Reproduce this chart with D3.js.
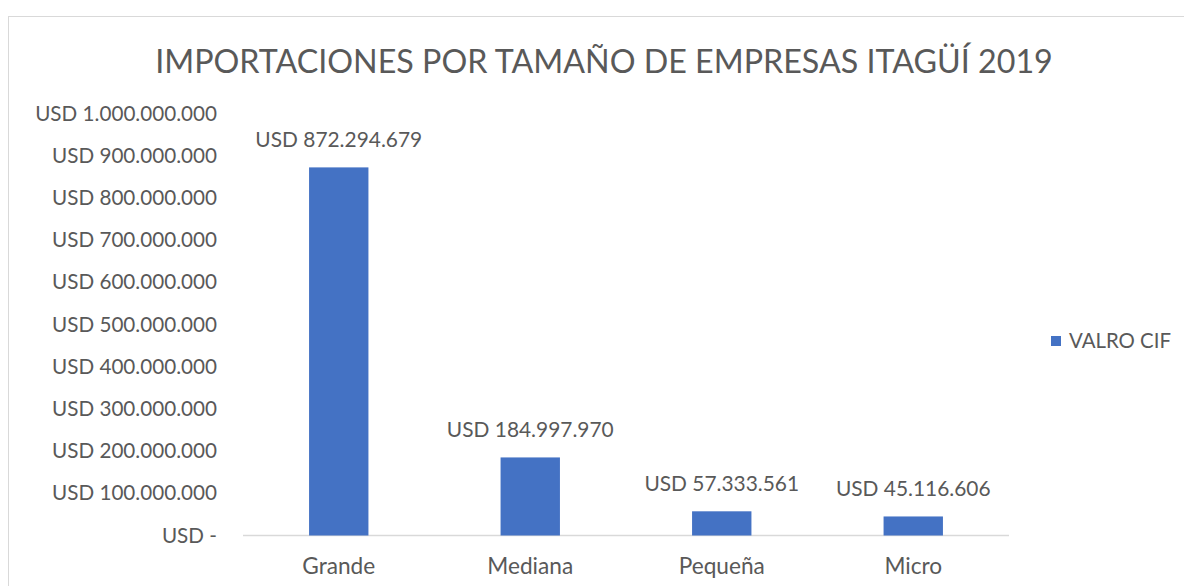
<!DOCTYPE html>
<html>
<head>
<meta charset="utf-8">
<script src="https://cdn.jsdelivr.net/npm/d3@7"></script>
<style>
  html, body { margin: 0; padding: 0; background: #fff; }
  svg text { font-family: "Lato", "Open Sans", sans-serif; fill: #595959; }
</style>
</head>
<body>
<svg id="chart" width="1184" height="586"></svg>
<script>
var categories = ["Grande", "Mediana", "Pequeña", "Micro"];
var valores = [872294679, 184997970, 57333561, 45116606];
var tickValues = [0, 100000000, 200000000, 300000000, 400000000, 500000000,
                  600000000, 700000000, 800000000, 900000000, 1000000000];
var seriesName = "VALRO CIF";
var title = "IMPORTACIONES POR TAMAÑO DE EMPRESAS ITAGÜÍ 2019";

var svg = d3.select("#chart");
var width = +svg.attr("width"), height = +svg.attr("height");

// outer chart border (runs off the picture on the right and bottom)
svg.append("rect")
    .attr("x", 8.5).attr("y", 16.5)
    .attr("width", 1300).attr("height", 700)
    .attr("fill", "none").attr("stroke", "#d9d9d9");

var margin = {left: 243, right: 1009, top: 113.5, bottom: 535.5};

var x = d3.scaleBand().domain(categories)
    .range([margin.left, margin.right]).paddingInner(0.69).paddingOuter(0.345);
var y = d3.scaleLinear().domain([0, 1000000000]).range([margin.bottom, margin.top]);

function fmt(v) {
    if (v === 0) return "USD -";
    return "USD " + d3.format(",")(v).replace(/,/g, ".");
}

// fit a font size so a sample string gets a target width
function fitSize(sample, target, base) {
    var t = svg.append("text").style("font-size", base + "px").text(sample);
    var w = t.node().getComputedTextLength();
    t.remove();
    return base * target / w;
}

var tickSize = fitSize("USD 1.000.000.000", 182, 18);
var labelSize = fitSize("USD 872.294.679", 167, 18);
var titleSize = fitSize(title, 898, 30);
var catSize = fitSize("Grande", 73, 18);

// title
svg.append("text")
    .attr("x", 604).attr("y", 73)
    .attr("text-anchor", "middle")
    .style("font-size", titleSize + "px")
    .text(title);

// y axis (labels only)
var yAxis = d3.axisLeft(y).tickValues(tickValues).tickFormat(fmt).tickSize(0).tickPadding(0);
var gy = svg.append("g").attr("transform", "translate(217,0)").call(yAxis);
gy.attr("font-family", null);
gy.select(".domain").remove();
gy.selectAll("text")
    .style("font-size", tickSize + "px")
    .attr("fill", null);

// x axis
var xAxis = d3.axisBottom(x).tickSize(0).tickPadding(22);
var gx = svg.append("g").attr("transform", "translate(0," + margin.bottom + ")").call(xAxis);
gx.attr("font-family", null);
gx.select(".domain").attr("stroke", "#d9d9d9").attr("stroke-width", 1.5)
    .attr("d", "M" + margin.left + ",0H" + margin.right);
gx.selectAll("text").style("font-size", catSize + "px").attr("fill", null);

// bars
svg.append("g").selectAll("rect")
    .data(valores)
    .join("rect")
    .attr("x", function (d, i) { return x(categories[i]); })
    .attr("y", function (d) { return y(d); })
    .attr("width", x.bandwidth())
    .attr("height", function (d) { return y(0) - y(d); })
    .attr("fill", "#4472c4");

// data labels
svg.append("g").selectAll("text")
    .data(valores)
    .join("text")
    .attr("x", function (d, i) { return x(categories[i]) + x.bandwidth() / 2; })
    .attr("y", function (d) { return y(d) - 20; })
    .attr("text-anchor", "middle")
    .style("font-size", labelSize + "px")
    .text(fmt);

// legend
var legend = svg.append("g").attr("transform", "translate(1051,336)");
legend.append("rect").attr("width", 10).attr("height", 10).attr("fill", "#4472c4");
legend.append("text")
    .attr("x", 18).attr("y", 5).attr("dy", "0.35em")
    .style("font-size", fitSize(seriesName, 102, 16) + "px")
    .text(seriesName);
</script>
</body>
</html>
